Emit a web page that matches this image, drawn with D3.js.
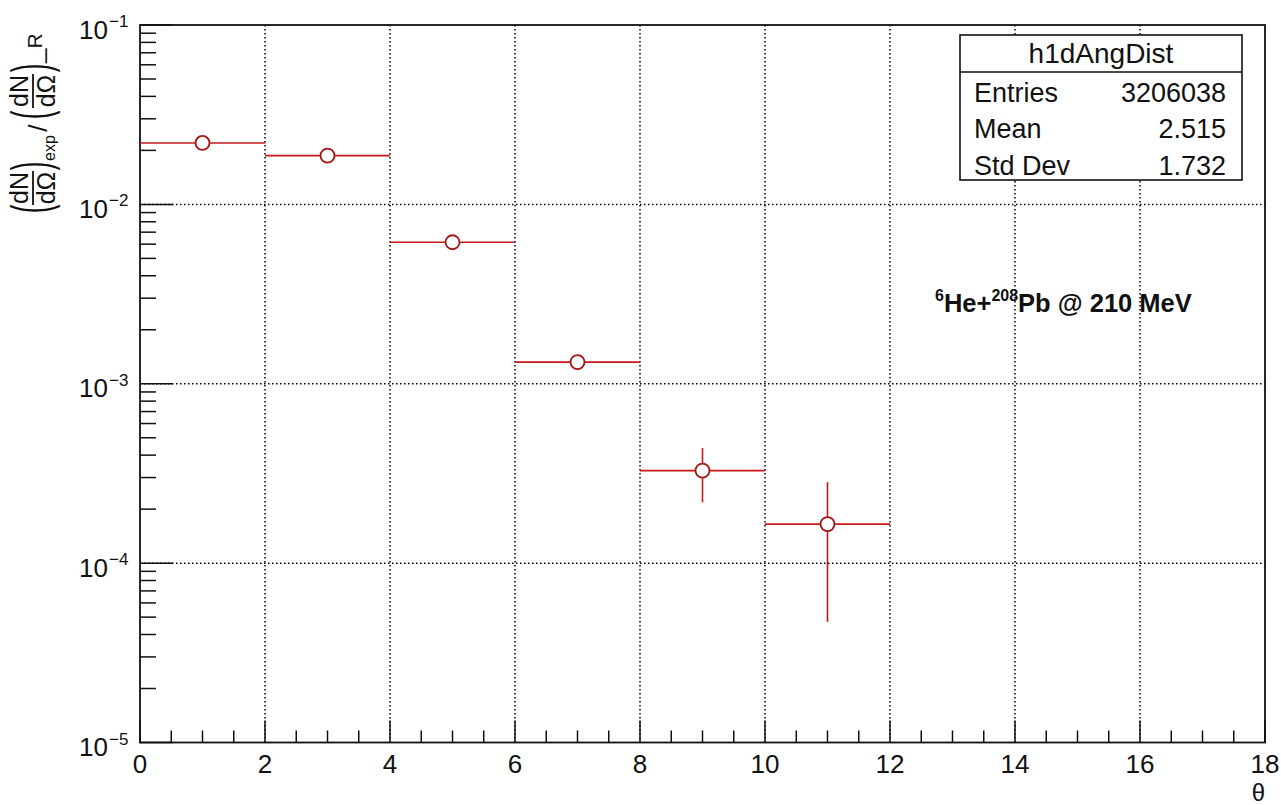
<!DOCTYPE html>
<html>
<head>
<meta charset="utf-8">
<script src="https://cdn.jsdelivr.net/npm/d3@7"></script>
<style>
  html, body { margin: 0; padding: 0; background: #fff; }
  svg { display: block; font-family: "Liberation Sans", Arial, Helvetica, sans-serif; }
</style>
</head>
<body>
<svg id="chart" width="1281" height="805"></svg>
<script>
// Histogram h1dAngDist: ratio of measured to Rutherford cross-section per angular bin
const binLow  = [0, 2, 4, 6, 8, 10];
const binHigh = [2, 4, 6, 8, 10, 12];
const ratio   = [0.0220, 0.0187, 0.00615, 0.00132, 0.000328, 0.000165];
const ratioErr = [0.00020, 0.00019, 0.00011, 0.00010, 0.000110, 0.000118];

const xTicks = [0, 2, 4, 6, 8, 10, 12, 14, 16, 18];
const yDecades = [-1, -2, -3, -4, -5];

const statLabels = ["Entries", "Mean", "Std Dev"];
const statValues = ["3206038", "2.515", "1.732"];
const histName = "h1dAngDist";

const svg = d3.select("#chart");
const W = 1281, H = 805;
const frame = { left: 140, right: 1265, top: 25, bottom: 742.5 };

const x = d3.scaleLinear().domain([0, 18]).range([frame.left, frame.right]);
const y = d3.scaleLog().domain([1e-5, 1e-1]).range([frame.bottom, frame.top]);

svg.append("rect").attr("width", W).attr("height", H).attr("fill", "#fff");

// Dotted grid at major ticks
const grid = svg.append("g").attr("stroke", "#000").attr("stroke-width", 1.5)
  .attr("stroke-dasharray", "1.5,2.5");
xTicks.filter(v => v > 0 && v < 18).forEach(v => {
  grid.append("line").attr("x1", x(v)).attr("x2", x(v))
    .attr("y1", frame.top).attr("y2", frame.bottom);
});
yDecades.filter(e => e > -5 && e < -1).forEach(e => {
  grid.append("line").attr("x1", frame.left).attr("x2", frame.right)
    .attr("y1", y(Math.pow(10, e))).attr("y2", y(Math.pow(10, e)));
});

// Axis ticks
const ticks = svg.append("g").attr("stroke", "#111").attr("stroke-width", 1.5);
// x: major every 2, minor every 0.5
d3.range(0, 18.001, 0.5).forEach(v => {
  const major = Math.abs(v / 2 - Math.round(v / 2)) < 1e-6;
  ticks.append("line").attr("x1", x(v)).attr("x2", x(v))
    .attr("y1", frame.bottom).attr("y2", frame.bottom - (major ? 22 : 12));
});
// y: log ticks
for (let e = -5; e <= -1; e++) {
  for (let m = 1; m <= 9; m++) {
    const v = m * Math.pow(10, e);
    ticks.append("line").attr("x1", frame.left)
      .attr("x2", frame.left + (m === 1 ? 33 : 16))
      .attr("y1", y(v)).attr("y2", y(v));
    if (e === -1) break;
  }
}

// Frame
svg.append("rect").attr("x", frame.left).attr("y", frame.top)
  .attr("width", frame.right - frame.left).attr("height", frame.bottom - frame.top)
  .attr("fill", "none").attr("stroke", "#111").attr("stroke-width", 1.8);

// x tick labels
svg.append("g").selectAll("text").data(xTicks).join("text")
  .attr("x", d => x(d)).attr("y", 773)
  .attr("text-anchor", "middle").attr("font-size", 26).attr("fill", "#111")
  .text(d => d);

// y tick labels 10^k
const yl = svg.append("g").attr("fill", "#111");
yDecades.forEach(e => {
  const ty = y(Math.pow(10, e));
  yl.append("text").attr("x", 108).attr("y", ty + 13.5)
    .attr("text-anchor", "end").attr("font-size", 26).text("10");
  yl.append("text").attr("x", 109).attr("y", ty + 2)
    .attr("text-anchor", "start").attr("font-size", 17).text("\u2212" + Math.abs(e));
});

// x axis title
svg.append("text").attr("x", 1265).attr("y", 801).attr("text-anchor", "end")
  .attr("font-size", 24).attr("fill", "#111").text("\u03b8");

// y axis title: (dN/dΩ)_exp / (dN/dΩ)_R, laid out along the rotated axis
const yt = svg.append("g").attr("transform", "translate(37,212) rotate(-90)").attr("fill", "#111");
function paren(u, ch) {
  yt.append("text").attr("transform", `translate(${u},11.8) scale(1,2.04)`)
    .attr("text-anchor", "middle").attr("font-size", 26).text(ch);
}
function frac(u) {
  yt.append("text").attr("x", u).attr("y", -9).attr("text-anchor", "middle")
    .attr("font-size", 25).text("dN");
  yt.append("line").attr("x1", u - 17).attr("x2", u + 17).attr("y1", -4).attr("y2", -4)
    .attr("stroke", "#111").attr("stroke-width", 1.8);
  yt.append("text").attr("x", u).attr("y", 18).attr("text-anchor", "middle")
    .attr("font-size", 25).text("d\u03a9");
}
paren(3, "(");
frac(24);
paren(46, ")");
yt.append("text").attr("x", 64).attr("y", 17.5).attr("text-anchor", "middle")
  .attr("font-size", 16).text("exp");
yt.append("text").attr("x", 84).attr("y", 10).attr("text-anchor", "middle")
  .attr("font-size", 26).text("/");
paren(97, "(");
frac(121);
paren(144, ")");
const rSub = yt.append("text").attr("x", 149).attr("y", 5).attr("text-anchor", "start");
rSub.append("tspan").attr("font-size", 26).text("_");
rSub.append("tspan").attr("font-size", 21).text("R");

// Data: horizontal bin-width bars, vertical error bars, open-circle markers
const red = "#c81818";
const bins = binLow.map((lo, i) => ({ lo, hi: binHigh[i], c: (lo + binHigh[i]) / 2, v: ratio[i], e: ratioErr[i] }));
const marks = svg.append("g");
marks.selectAll("line.h").data(bins).join("line").attr("class", "h")
  .attr("x1", d => x(d.lo)).attr("x2", d => x(d.hi))
  .attr("y1", d => y(d.v)).attr("y2", d => y(d.v))
  .attr("stroke", red).attr("stroke-width", 1.6);
marks.selectAll("line.v").data(bins).join("line").attr("class", "v")
  .attr("x1", d => x(d.c)).attr("x2", d => x(d.c))
  .attr("y1", d => y(d.v + d.e)).attr("y2", d => y(d.v - d.e))
  .attr("stroke", red).attr("stroke-width", 1.6);
marks.selectAll("circle").data(bins).join("circle")
  .attr("cx", d => x(d.c)).attr("cy", d => y(d.v)).attr("r", 7)
  .attr("fill", "#fff").attr("stroke", "#a51515").attr("stroke-width", 1.8);

// Stats box
const sb = svg.append("g");
sb.append("rect").attr("x", 960).attr("y", 35).attr("width", 282).attr("height", 145)
  .attr("fill", "#fff").attr("stroke", "#111").attr("stroke-width", 1.6);
sb.append("line").attr("x1", 960).attr("x2", 1242).attr("y1", 72).attr("y2", 72)
  .attr("stroke", "#111").attr("stroke-width", 1.4);
sb.append("text").attr("x", 1101).attr("y", 63).attr("text-anchor", "middle")
  .attr("font-size", 28).attr("fill", "#111").text(histName);
statLabels.forEach((lab, i) => {
  const by = 101.5 + i * 36.8;
  sb.append("text").attr("x", 974).attr("y", by).attr("font-size", 27).attr("fill", "#111").text(lab);
  sb.append("text").attr("x", 1226).attr("y", by).attr("text-anchor", "end")
    .attr("font-size", 27).attr("fill", "#111").text(statValues[i]);
});

// Reaction annotation
const ann = svg.append("text").attr("x", 935).attr("y", 312).attr("font-size", 25.5)
  .attr("font-weight", "bold").attr("fill", "#111");
ann.append("tspan").attr("font-size", 16).attr("dy", -11).text("6");
ann.append("tspan").attr("dy", 11).text("He+");
ann.append("tspan").attr("font-size", 16).attr("dy", -11).text("208");
ann.append("tspan").attr("dy", 11).text("Pb @ 210 MeV");
</script>
</body>
</html>
